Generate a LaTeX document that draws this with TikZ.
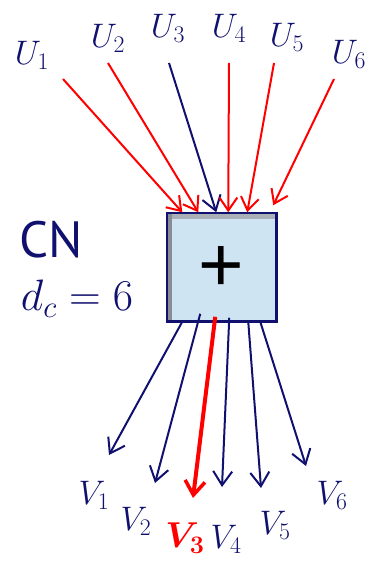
\RequirePackage{fix-cm}
\documentclass[tikz,border=0pt]{standalone}
\usepackage{fontspec}
\usepackage{bm}
\usetikzlibrary{arrows.meta}
\newfontfamily\cnfont{PT Sans}
\newfontfamily\plusfont{Liberation Sans}
\definecolor{navy}{RGB}{16,16,110}
\definecolor{boxfill}{RGB}{207,228,243}
\definecolor{shadegray}{RGB}{170,176,184}
\tikzset{
	lbl/.style={inner sep=0pt, text=navy, font=\fontsize{34}{40}\selectfont},
	redarr/.style={red, line width=2pt, -{Straight Barb[length=13pt,width=18pt,line width=2pt]}},
	bluearr/.style={navy, line width=2pt, -{Straight Barb[length=14pt,width=19pt,line width=2pt]}},
	thickarr/.style={red, line width=4pt, -{Straight Barb[length=14pt,width=20pt,line width=3.5pt]}}
}
\begin{document}
\begin{tikzpicture}[x=1pt, y=-1pt]
			\useasboundingbox (0,0) rectangle (372,561);
			\node[draw=navy, line width=1.5pt, fill=boxfill, minimum width=109pt, minimum height=108pt, inner sep=0pt] (cn) at (221.5,267) {};
			\fill[shadegray] (168,214) rectangle (275,219);
			\fill[shadegray!80!black] (168,214) rectangle (172,320);
			\draw[navy, line width=1.5pt] (cn.north west) rectangle (cn.south east);
			\node[inner sep=0pt, font=\plusfont\fontsize{78}{78}\selectfont] (plus) at (221,269) {+};
			\node[inner sep=0pt, text=navy, font=\cnfont\fontsize{51}{54}\selectfont] (cntext) at (51,240) {CN};
			\node[inner sep=0pt, text=navy, font=\fontsize{44}{50}\selectfont] (dc) at (77,299) {$d_c=6$};
			\node[lbl] (u1) at (32,55) {$U_1$};
			\node[lbl] (u2) at (108,38) {$U_2$};
			\node[lbl] (u3) at (168,28) {$U_3$};
			\node[lbl] (u4) at (229,28) {$U_4$};
			\node[lbl] (u5) at (287,37) {$U_5$};
			\node[lbl] (u6) at (349,54) {$U_6$};
			\node[lbl] (v1) at (94,495) {$V_1$};
			\node[lbl] (v2) at (136,521) {$V_2$};
			\node[lbl, text=red, font=\fontsize{36}{40}\selectfont] (v3) at (185,538) {$\bm{V_3}$};
			\node[lbl] (v4) at (226,539) {$V_4$};
			\node[lbl] (v5) at (275,525) {$V_5$};
			\node[lbl] (v6) at (332,495) {$V_6$};
			\coordinate (a1) at (63,79);
			\coordinate (a2) at (108,63);
			\coordinate (a3) at (169,63);
			\coordinate (a4) at (229,63);
			\coordinate (a5) at (274,63);
			\coordinate (a6) at (334,79);
			\coordinate (b1) at (109,455);
			\coordinate (b2) at (155,483);
			\coordinate (b3) at (193,498);
			\coordinate (b4) at (222,487);
			\coordinate (b5) at (261,488);
			\coordinate (b6) at (306,466);
			\draw[redarr] (a1) -- ([xshift=16pt]cn.north west);
			\draw[redarr] (a2) -- ([xshift=32pt]cn.north west);
			\draw[bluearr] (a3) -- ([xshift=50pt]cn.north west);
			\draw[redarr] (a4) -- ([xshift=62pt]cn.north west);
			\draw[redarr] (a5) -- ([xshift=81pt]cn.north west);
			\draw[redarr] (a6) -- ([xshift=107pt,yshift=7pt]cn.north west);
			\draw[bluearr] ([xshift=16pt]cn.south west) -- (b1);
			\draw[bluearr] ([xshift=34pt,yshift=8pt]cn.south west) -- (b2);
			\draw[thickarr] ([xshift=49pt,yshift=5pt]cn.south west) -- (b3);
			\draw[bluearr] ([xshift=63pt,yshift=4pt]cn.south west) -- (b4);
			\draw[bluearr] ([xshift=82pt]cn.south west) -- (b5);
			\draw[bluearr] ([xshift=94pt]cn.south west) -- (b6);
		\end{tikzpicture}
\end{document}
